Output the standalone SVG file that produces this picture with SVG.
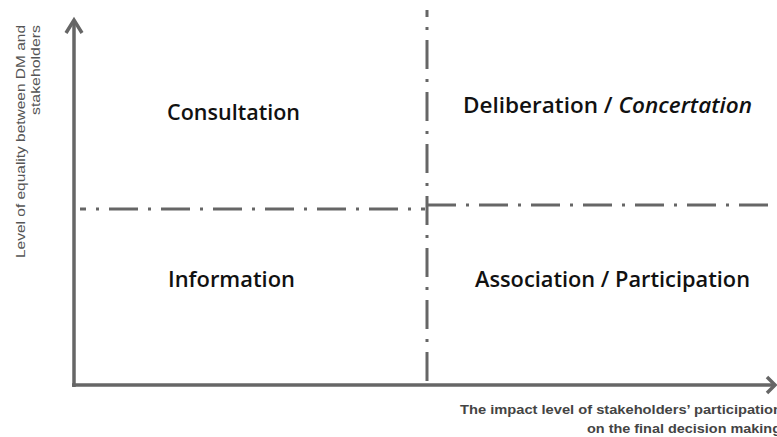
<svg xmlns="http://www.w3.org/2000/svg" width="777" height="437" viewBox="0 0 777 437">
<style>
.axis{stroke:#666;stroke-width:3.5;fill:none;stroke-linecap:butt}
.head{stroke:#666;stroke-width:3.5;fill:none;stroke-linejoin:miter}
.dd{stroke:#666;stroke-width:3;fill:none;stroke-dasharray:29 10 3 10}
.lbl{font-family:"Open Sans","Liberation Sans",sans-serif;font-size:21px;fill:#111;font-weight:600}
.ax{font-family:"Liberation Sans",Arial,sans-serif;font-size:12px;fill:#555}
.axb{font-family:"Liberation Sans",Arial,sans-serif;font-size:12px;fill:#444;font-weight:bold}
</style>
<rect width="777" height="437" fill="#fff"/>
<g id="connectors">
<line class="axis" x1="74" y1="387" x2="74" y2="21"/>
<polyline class="head" points="66,33 74,20 82,33"/>
<line class="axis" x1="72" y1="385" x2="774" y2="385"/>
<polyline class="head" points="767,377 775,385 767,393"/>
<line class="dd" x1="80" y1="209" x2="425" y2="209" stroke-dashoffset="23"/>
<line class="dd" x1="427" y1="205" x2="777" y2="205"/>
<line class="dd" x1="427" y1="10" x2="427" y2="385" stroke-dashoffset="22"/>
</g>
<g id="consultation"><text class="lbl" x="167" y="120" textLength="133" lengthAdjust="spacingAndGlyphs">Consultation</text></g>
<g id="deliberation"><text class="lbl" x="463" y="113" textLength="289" lengthAdjust="spacingAndGlyphs">Deliberation / <tspan font-style="italic">Concertation</tspan></text></g>
<g id="information"><text class="lbl" x="168" y="287" textLength="127" lengthAdjust="spacingAndGlyphs">Information</text></g>
<g id="association"><text class="lbl" x="475" y="287" textLength="275" lengthAdjust="spacingAndGlyphs">Association / Participation</text></g>
<g id="y-label">
<text class="ax" transform="translate(25,25) rotate(-90)" text-anchor="end" textLength="233" lengthAdjust="spacingAndGlyphs">Level of equality between DM and</text>
<text class="ax" transform="translate(40,25) rotate(-90)" text-anchor="end" textLength="90" lengthAdjust="spacingAndGlyphs">stakeholders</text>
</g>
<g id="x-label">
<text class="axb" x="460" y="414" textLength="322" lengthAdjust="spacingAndGlyphs">The impact level of stakeholders’ participation</text>
<text class="axb" x="587" y="433" textLength="194" lengthAdjust="spacingAndGlyphs">on the final decision making</text>
</g>
</svg>
